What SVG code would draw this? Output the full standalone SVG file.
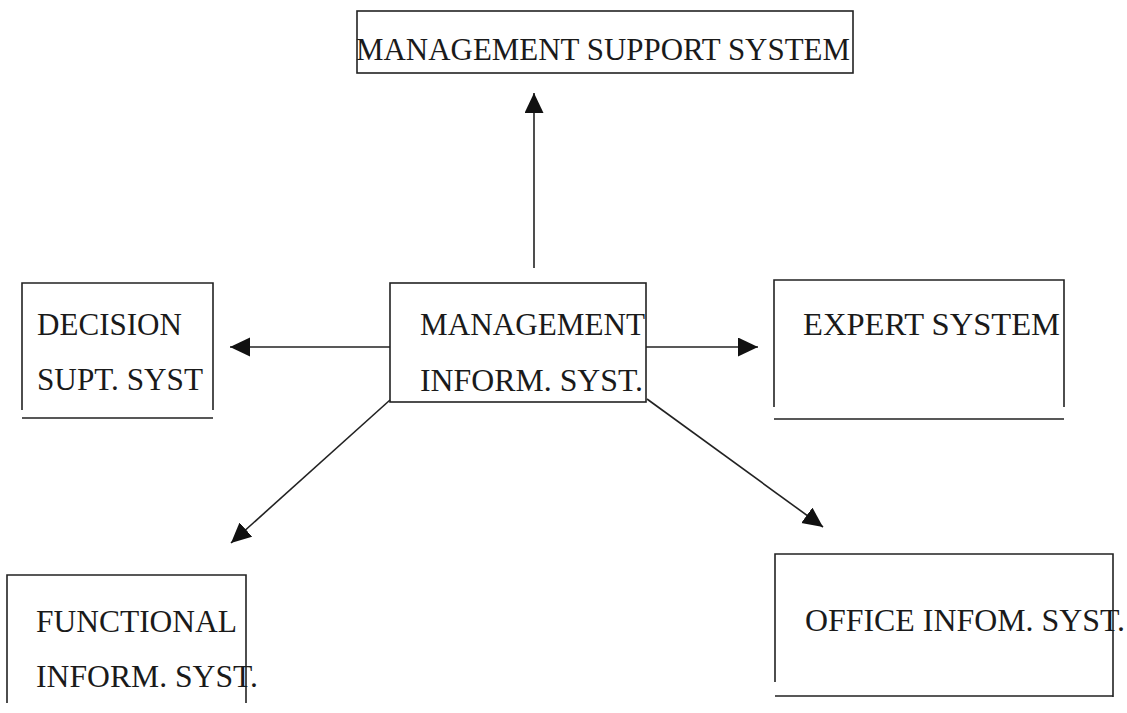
<svg xmlns="http://www.w3.org/2000/svg" width="1127" height="713" viewBox="0 0 1127 713">
<style>
.box{fill:none;stroke:#222;stroke-width:1.6}
text{font-family:'Liberation Serif','Times New Roman','DejaVu Serif',serif;font-size:32px;fill:#1a1a1a}
.con{stroke:#222;stroke-width:1.6;fill:none}
</style>
<defs>
<marker id="ah" markerUnits="userSpaceOnUse" markerWidth="21" markerHeight="20" refX="20" refY="9.5" orient="auto" viewBox="0 0 21 20">
<path d="M0,0 L20,9.5 L0,19 z" fill="#111"/>
</marker>
</defs>
<rect width="1127" height="713" fill="#fff"/>
<g id="mss">
<rect class="box" x="357" y="11" width="496" height="62"/>
<text x="356" y="60" font-size="35" textLength="494" lengthAdjust="spacingAndGlyphs">MANAGEMENT SUPPORT SYSTEM</text>
</g>
<g id="dss">
<path class="box" d="M22,410 V283 H213 V410 M22,418 H213"/>
<text x="37" y="335" textLength="145" lengthAdjust="spacingAndGlyphs">DECISION</text>
<text x="37" y="390" textLength="166" lengthAdjust="spacingAndGlyphs">SUPT. SYST</text>
</g>
<g id="mis">
<rect class="box" x="390" y="283" width="256" height="119"/>
<text x="420" y="335" textLength="225" lengthAdjust="spacingAndGlyphs">MANAGEMENT</text>
<text x="420" y="391" textLength="223" lengthAdjust="spacingAndGlyphs">INFORM. SYST.</text>
</g>
<g id="es">
<path class="box" d="M774,407 V280 H1064 V407 M774,419 H1064"/>
<text x="803" y="335" textLength="257" lengthAdjust="spacingAndGlyphs">EXPERT SYSTEM</text>
</g>
<g id="fis">
<path class="box" d="M7,703 V575 H246 V703"/>
<text x="36" y="632" textLength="201" lengthAdjust="spacingAndGlyphs">FUNCTIONAL</text>
<text x="36" y="687" textLength="222" lengthAdjust="spacingAndGlyphs">INFORM. SYST.</text>
</g>
<g id="ois">
<path class="box" d="M775,682 V554 H1113 V697 M775,696 H1113"/>
<text x="805" y="631" textLength="320" lengthAdjust="spacingAndGlyphs">OFFICE INFOM. SYST.</text>
</g>
<g id="connectors">
<line class="con" x1="534" y1="268" x2="534" y2="93" marker-end="url(#ah)"/>
<line class="con" x1="390" y1="347" x2="230" y2="347" marker-end="url(#ah)"/>
<line class="con" x1="646" y1="347" x2="758" y2="347" marker-end="url(#ah)"/>
<line class="con" x1="390" y1="400" x2="231" y2="543" marker-end="url(#ah)"/>
<line class="con" x1="647" y1="399" x2="823" y2="527" marker-end="url(#ah)"/>
</g>
</svg>
